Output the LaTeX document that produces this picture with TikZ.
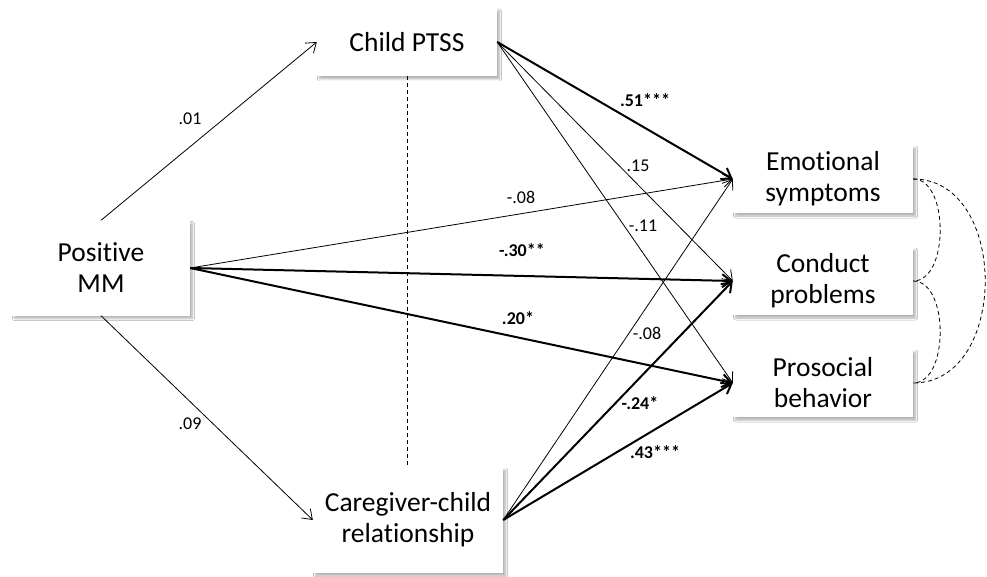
\documentclass[tikz,border=0pt]{standalone}
\usepackage{fontspec}
\setmainfont{Carlito}[RawFeature={-liga}]
\usetikzlibrary{arrows.meta,shadows.blur}
\begin{document}
\begin{tikzpicture}[x=1pt,y=-1pt,
 box/.style={fill=white, align=center, font=\fontsize{27.5}{31}\selectfont, inner sep=0pt,
   blur shadow={shadow xshift=2.5pt, shadow yshift=-3pt, shadow blur steps=6, shadow opacity=30, shadow blur radius=2pt}},
 thinarr/.style={line width=0.8pt, -{Straight Barb[length=9pt,width=13pt]}},
 thickarr/.style={line width=2pt, -{Straight Barb[length=9pt,width=13pt]}},
 lab/.style={font=\fontsize{18}{20}\selectfont, inner sep=0pt},
 blab/.style={font=\fontsize{18}{20}\selectfont\bfseries, inner sep=0pt},
 dsh/.style={line width=0.8pt, dash pattern=on 4pt off 3pt}]
\useasboundingbox[fill=white] (0,0) rectangle (987,577);

\node[box, minimum width=178pt, minimum height=95pt] (pmm) at (101,268) {Positive\\MM};
\node[box, minimum width=180pt, minimum height=68pt] (ptss) at (407,42) {Child PTSS};
\node[box, minimum width=190pt, minimum height=106pt] (ccr) at (408,520) {Caregiver-child\\relationship};
\node[box, minimum width=180pt, minimum height=68pt] (es) at (823,179) {Emotional\\symptoms};
\node[box, minimum width=180pt, minimum height=68pt] (cp) at (823,281) {Conduct\\problems};
\node[box, minimum width=180pt, minimum height=68pt] (pb) at (823,383) {Prosocial\\behavior};

% dashed separator
\draw[dsh] (ptss.south) -- (ptss.south |- ccr.north);

% paths from Positive MM
\draw[thinarr] (pmm.north) -- (ptss.west);
\draw[thinarr] (pmm.south) -- (ccr.west);
\draw[thinarr] (pmm.east) -- (es.west);
\draw[thickarr] (pmm.east) -- (cp.west);
\draw[thickarr] (pmm.east) -- (pb.west);

% paths from Child PTSS
\draw[thickarr] (ptss.east) -- (es.west);
\draw[thinarr] (ptss.east) -- (cp.west);
\draw[thinarr] (ptss.east) -- (pb.west);

% paths from Caregiver-child relationship
\draw[thinarr] (ccr.east) -- (es.west);
\draw[thickarr] (ccr.east) -- (cp.west);
\draw[thickarr] (ccr.east) -- (pb.west);

% correlations
\draw[dsh] (es.east) .. controls +(36,0) and +(36,0) .. (cp.east);
\draw[dsh] (cp.east) .. controls +(36,0) and +(36,0) .. (pb.east);
\draw[dsh] (es.east) .. controls +(96,0) and +(96,0) .. (pb.east);

% labels
\node[lab] (l01) at (190,119) {.01};
\node[lab] (l09) at (190,424) {.09};
\node[lab] (l08a) at (521,197) {-.08};
\node[blab] (l30) at (522,250) {-.30**};
\node[blab] (l20) at (518,318) {.20*};
\node[blab] (l51) at (645,100) {.51***};
\node[lab] (l15) at (638,166) {.15};
\node[lab] (l11) at (643,226) {-.11};
\node[lab] (l08b) at (647,333) {-.08};
\node[blab] (l24) at (640,403) {-.24*};
\node[blab] (l43) at (655,452) {.43***};
\end{tikzpicture}
\end{document}
